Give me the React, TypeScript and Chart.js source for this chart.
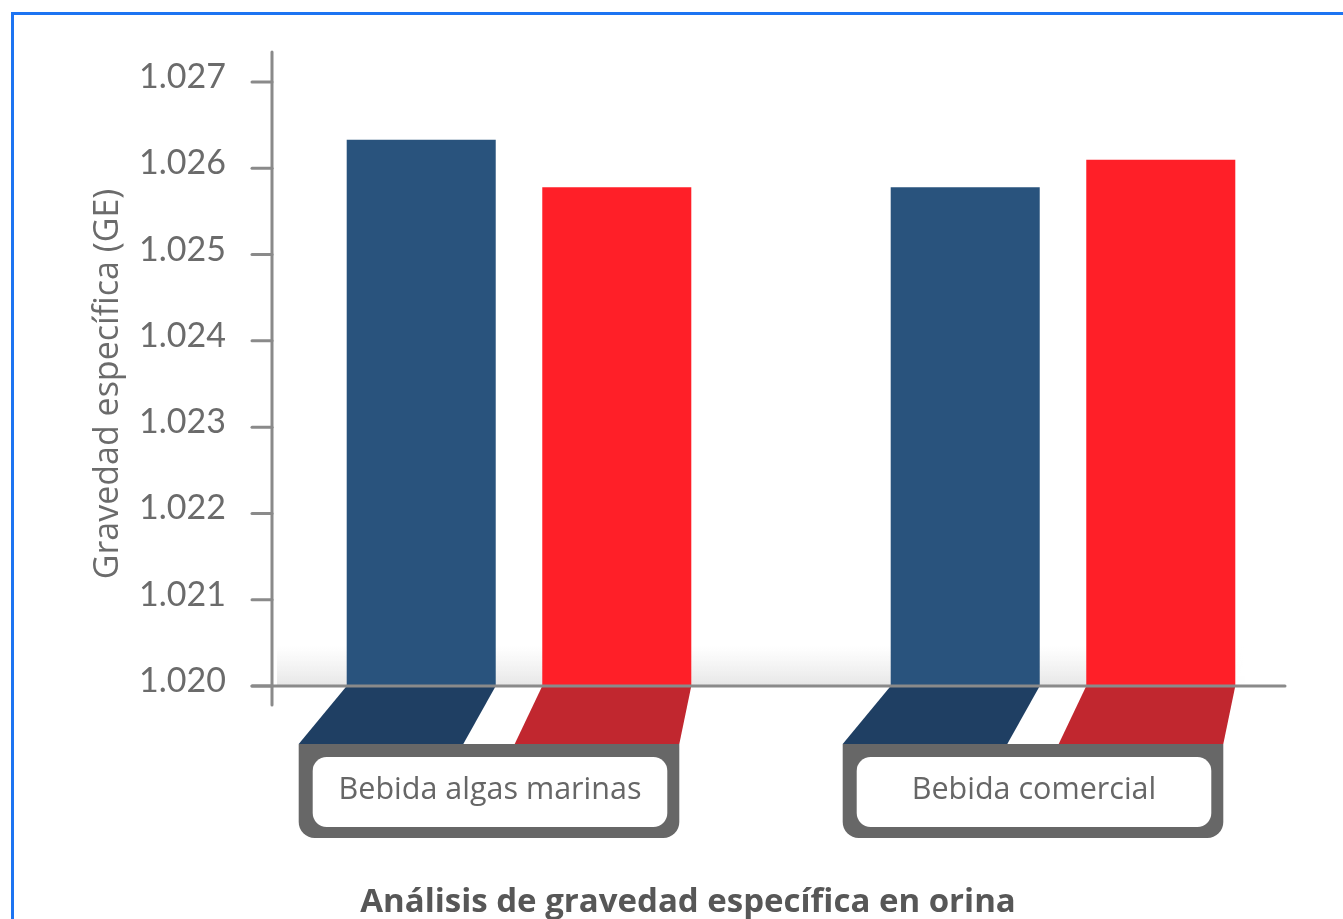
import React, { useEffect, useRef } from "react";
import { Chart, registerables } from "chart.js";

Chart.register(...registerables);

const categories = ["Bebida algas marinas", "Bebida comercial"];
const seriesNames = ["Serie 1", "Serie 2"];
const seriesBlue = [1.02633, 1.02578];
const seriesRed = [1.02578, 1.0261];
const yTicks = [1.02, 1.021, 1.022, 1.023, 1.024, 1.025, 1.026, 1.027];
const yTitle = "Gravedad específica (GE)";
const chartTitle = "Análisis de gravedad específica en orina";

const FONT = "Lato, 'Noto Sans', sans-serif";
const FONT2 = "'Open Sans', 'Noto Sans', sans-serif";

const decor = {
  id: "decor",
  beforeDatasetsDraw(chart: any) {
    const { ctx, chartArea } = chart;
    const yScale = chart.scales.y;
    const base = yScale.getPixelForValue(yTicks[0]);
    ctx.save();
    // outer blue frame
    ctx.strokeStyle = "#1d74f2";
    ctx.lineWidth = 3;
    ctx.beginPath();
    ctx.moveTo(12.5, chart.height);
    ctx.lineTo(12.5, 13.5);
    ctx.lineTo(chart.width, 13.5);
    ctx.stroke();
    // soft floor shadow
    const x0 = chartArea.left + 30;
    const x1 = chartArea.right - 90;
    const g = ctx.createLinearGradient(0, base - 40, 0, base);
    g.addColorStop(0, "rgba(215,215,215,0)");
    g.addColorStop(1, "rgba(205,205,205,0.5)");
    ctx.fillStyle = g;
    ctx.fillRect(x0, base - 40, x1 - x0, 40);
    const gh = ctx.createLinearGradient(x1 - 160, 0, x1, 0);
    gh.addColorStop(0, "rgba(255,255,255,0)");
    gh.addColorStop(1, "rgba(255,255,255,1)");
    ctx.fillStyle = gh;
    ctx.fillRect(x1 - 160, base - 40, 160, 40);
    ctx.restore();
  },
  afterDatasetsDraw(chart: any) {
    const { ctx, chartArea } = chart;
    const yScale = chart.scales.y;
    const base = yScale.getPixelForValue(yTicks[0]);
    const metaB = chart.getDatasetMeta(0);
    const metaR = chart.getDatasetMeta(1);
    const fb = base + 58;
    const boxH = 94;
    ctx.save();
    categories.forEach((label, i) => {
      const b = metaB.data[i];
      const r = metaR.data[i];
      const gl = b.x - b.width / 2;
      const gr = r.x + r.width / 2;
      const boxL = gl - 48;
      const boxR = gr - 12;
      const map = (x: number) => boxL + ((x - gl) * (boxR - boxL)) / (gr - gl);
      const floor = (el: any, color: string) => {
        const l = el.x - el.width / 2;
        const rr = el.x + el.width / 2;
        ctx.fillStyle = color;
        ctx.beginPath();
        ctx.moveTo(l, base);
        ctx.lineTo(rr, base);
        ctx.lineTo(map(rr), fb);
        ctx.lineTo(map(l), fb);
        ctx.closePath();
        ctx.fill();
      };
      floor(b, "#1f3f63");
      floor(r, "#c1272f");
      // label box
      ctx.fillStyle = "#676767";
      ctx.beginPath();
      ctx.roundRect(boxL, fb, boxR - boxL, boxH, [0, 0, 16, 16]);
      ctx.fill();
      ctx.fillStyle = "#ffffff";
      ctx.beginPath();
      ctx.roundRect(boxL + 14, fb + 13, boxR - boxL - 26, 70, 14);
      ctx.fill();
      ctx.fillStyle = "#666666";
      ctx.font = `30.5px ${FONT2}`;
      ctx.textAlign = "center";
      ctx.textBaseline = "middle";
      ctx.fillText(label, (boxL + 14 + boxR - 12) / 2, fb + 46);
    });
    // axes
    const axisX = chartArea.left + 25;
    ctx.strokeStyle = "#8a8a8a";
    ctx.lineWidth = 3;
    ctx.lineCap = "round";
    ctx.beginPath();
    ctx.moveTo(axisX, chartArea.top - 30);
    ctx.lineTo(axisX, base + 19);
    ctx.stroke();
    ctx.beginPath();
    ctx.moveTo(axisX - 20, base);
    ctx.lineTo(chartArea.right - 50, base);
    ctx.stroke();
    yTicks.forEach((v) => {
      const y = yScale.getPixelForValue(v);
      ctx.beginPath();
      ctx.moveTo(axisX - 20, y);
      ctx.lineTo(axisX, y);
      ctx.stroke();
    });
    // bottom title
    ctx.fillStyle = "#575757";
    ctx.font = `bold 33px ${FONT2}`;
    ctx.textAlign = "center";
    ctx.textBaseline = "alphabetic";
    ctx.fillText(chartTitle, 688, 912);
    ctx.restore();
  },
};

export default function App() {
  const ref = useRef<HTMLCanvasElement | null>(null);
  useEffect(() => {
    let chart: Chart | null = null;
    let cancelled = false;
    const make = () => {
      if (cancelled || !ref.current) return;
      chart = new Chart(ref.current, {
        type: "bar",
        data: {
          labels: categories,
          datasets: [
            {
              label: seriesNames[0],
              data: seriesBlue,
              backgroundColor: "#29537d",
              borderWidth: 0,
              barPercentage: 0.762,
              categoryPercentage: 0.719,
            },
            {
              label: seriesNames[1],
              data: seriesRed,
              backgroundColor: "#ff1f28",
              borderWidth: 0,
              barPercentage: 0.762,
              categoryPercentage: 0.719,
            },
          ],
        },
        options: {
          responsive: false,
          animation: false,
          layout: { padding: { left: 84, right: 8, top: 82, bottom: 233 } },
          plugins: { legend: { display: false }, tooltip: { enabled: false } },
          scales: {
            x: { display: false },
            y: {
              min: yTicks[0],
              max: yTicks[yTicks.length - 1],
              afterBuildTicks: (s: any) => {
                s.ticks = yTicks.map((v) => ({ value: v }));
              },
              afterFit: (s: any) => {
                s.width = 163;
              },
              grid: { display: false, drawTicks: false },
              border: { display: false },
              ticks: {
                padding: 21,
                labelOffset: -5,
                color: "#6b6b6b",
                font: { family: FONT, size: 34 },
                callback: (v: any) => Number(v).toFixed(3),
              },
              title: {
                display: true,
                text: yTitle,
                color: "#6b6b6b",
                font: { family: FONT2, size: 34 },
              },
            },
          },
        },
        plugins: [decor],
      } as any);
    };
    const fontsReady = (document as any).fonts
      ? Promise.all([
          (document as any).fonts.load(`34px Lato`),
          (document as any).fonts.load(`34px "Open Sans"`),
          (document as any).fonts.load(`bold 33px "Open Sans"`),
        ]).catch(() => null)
      : Promise.resolve(null);
    fontsReady.then(make);
    return () => {
      cancelled = true;
      if (chart) chart.destroy();
    };
  }, []);
  return (
    <div style={{ position: "absolute", left: 0, top: 0, width: 1343, height: 919, background: "#fff" }}>
      <canvas ref={ref} width={1343} height={919} />
    </div>
  );
}
